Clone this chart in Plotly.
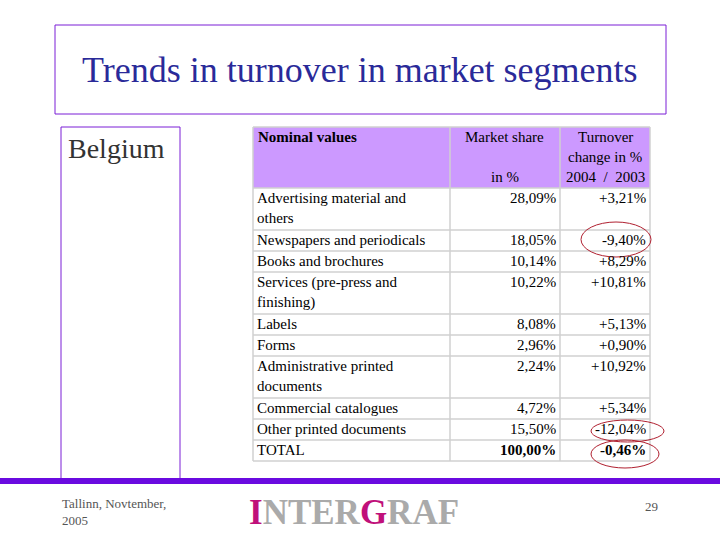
import plotly.graph_objects as go

categories = ["Advertising material and<br>others", "Newspapers and periodicals", "Books and brochures",
              "Services (pre-press and<br>finishing)", "Labels", "Forms",
              "Administrative printed<br>documents", "Commercial catalogues",
              "Other printed documents", "TOTAL"]
market_share = ["28,09%", "18,05%", "10,14%", "10,22%", "8,08%", "2,96%", "2,24%", "4,72%", "15,50%", "<b>100,00%</b>"]
turnover_change = ["+3,21%", "-9,40%", "+8,29%", "+10,81%", "+5,13%", "+0,90%", "+10,92%", "+5,34%", "-12,04%", "<b>-0,46%</b>"]
headers = ["<b>Nominal values</b>", "Market share<br><br>in %", "Turnover<br>change in %<br>2004  /  2003"]

W, H = 720, 540
def px(x): return x / W
def py(y): return 1 - y / H

FONT = "Liberation Serif"
col_x = [253, 450, 560, 650]
header_top, header_bot, line_h = 127, 188, 21
shapes, ann = [], []

def line_text(x, y, t, anchor, size=15, color="black"):
    ann.append(dict(x=px(x), y=py(y), text=t, xanchor=anchor,
                    font=dict(family=FONT, size=size, color=color)))

shapes.append(dict(type="rect", x0=px(col_x[0]), x1=px(col_x[-1]), y0=py(header_bot), y1=py(header_top),
                   fillcolor="#cc99ff", line=dict(width=0), layer="below"))
for c, h in enumerate(headers):
    for k, t in enumerate(h.split("<br>")):
        if not t:
            continue
        if c == 0:
            line_text(col_x[0] + 3, header_top + 10 + 20 * k, t, "left")
        else:
            line_text((col_x[c] + col_x[c + 1]) / 2, header_top + 10 + 20 * k, t, "center")

y = header_bot
bounds = [header_top, header_bot]
for cat, ms, tc in zip(categories, market_share, turnover_change):
    lines = cat.split("<br>")
    for k, t in enumerate(lines):
        line_text(col_x[0] + 2, y + 10 + 20 * k, t, "left")
    line_text(col_x[2] - 2, y + 10, ms, "right")
    line_text(col_x[3] - 2, y + 10, tc, "right")
    y += line_h * len(lines)
    bounds.append(y)

grid = dict(color="#d0d0d0", width=1.5)
for b in bounds:
    shapes.append(dict(type="line", x0=px(col_x[0]), x1=px(col_x[-1]), y0=py(b), y1=py(b), line=grid))
for cx in col_x:
    shapes.append(dict(type="line", x0=px(cx), x1=px(cx), y0=py(header_top), y1=py(bounds[-1]), line=grid))

shapes += [
    dict(type="rect", x0=px(55), x1=px(666), y0=py(114), y1=py(25), line=dict(color="#7a1fd6", width=1)),
    dict(type="rect", x0=px(61), x1=px(180), y0=py(479), y1=py(127), line=dict(color="#7a1fd6", width=1)),
    dict(type="rect", x0=0, x1=1, y0=py(484), y1=py(478), fillcolor="#6a0ae0", line=dict(width=0)),
    dict(type="circle", x0=px(581), x1=px(651), y0=py(257), y1=py(222), line=dict(color="#b02030", width=1)),
    dict(type="circle", x0=px(591), x1=px(664), y0=py(442), y1=py(420), line=dict(color="#b02030", width=1)),
    dict(type="circle", x0=px(591), x1=px(659), y0=py(468), y1=py(440), line=dict(color="#b02030", width=1)),
]
for s in shapes:
    s.update(xref="paper", yref="paper")

ann += [
    dict(x=px(360), y=py(70), text="Trends in turnover in market segments", xanchor="center",
         font=dict(family=FONT, size=36, color="#2a2a99")),
    dict(x=px(66), y=py(148), text="Belgium", xanchor="left",
         font=dict(family=FONT, size=28, color="#333333")),
    dict(x=px(60), y=py(512), text="Tallinn, Novtember,<br>2005", xanchor="left", align="left",
         font=dict(family=FONT, size=13, color="#555555")),
    dict(x=px(354), y=py(512), text="<b><span style='color:#c0107a'>I</span>NTER<span style='color:#c0107a'>G</span>RAF</b>",
         xanchor="center", font=dict(family=FONT, size=35, color="#aaaaaa")),
    dict(x=px(651), y=py(506), text="29", xanchor="center", font=dict(family=FONT, size=13, color="#555555")),
]
for a in ann:
    a.update(xref="paper", yref="paper", showarrow=False, yanchor="middle")

fig = go.Figure()
fig.update_layout(width=W, height=H, margin=dict(l=0, r=0, t=0, b=0),
                  paper_bgcolor="white", plot_bgcolor="white",
                  shapes=shapes, annotations=ann,
                  xaxis=dict(visible=False), yaxis=dict(visible=False))
fig.write_html("out.html", config={"displayModeBar": False},
               post_script="document.body.style.margin='0';")
